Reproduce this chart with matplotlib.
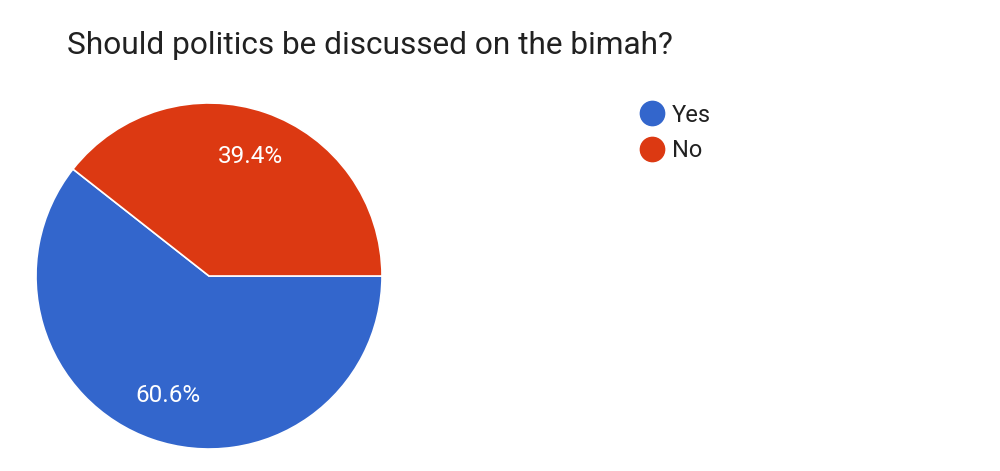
import matplotlib
matplotlib.use("Agg")
import matplotlib.pyplot as plt
from matplotlib.lines import Line2D

title = "Should politics be discussed on the bimah?"
categories = ["Yes", "No"]
values = [60.6, 39.4]
colors = ["#3366CC", "#DC3912"]

plt.rcParams['font.family'] = ['Roboto', 'DejaVu Sans']

W, H = 1000, 471
fig = plt.figure(figsize=(W/100, H/100), dpi=100)
fig.patch.set_facecolor("white")

cx, cy, r = 209, 276, 173
ax = fig.add_axes([(cx - r)/W, 1 - (cy + r)/H, 2*r/W, 2*r/H])
wedges, texts, autotexts = ax.pie(
    values, colors=colors, startangle=360*values[1]/100, counterclock=True,
    autopct='%1.1f%%', pctdistance=0.73, radius=1,
    wedgeprops=dict(edgecolor='white', linewidth=1.2),
    textprops=dict(color='white', fontsize=17.5))
ax.set_xlim(-1.0, 1.0)
ax.set_ylim(-1.0, 1.0)
ax.set_aspect('equal')
ax.axis('off')

fig.text(67/W, 1 - 45/H, title, fontsize=22.8, color='#212121', va='center', ha='left')

handles = [Line2D([0], [0], marker='o', linestyle='none', markersize=17.5,
                  markerfacecolor=c, markeredgecolor=c) for c in colors]
leg = fig.legend(handles, categories, loc='upper left',
                 bbox_to_anchor=(638/W, 1 - 103.5/H), frameon=False,
                 fontsize=17, handletextpad=0.25, labelspacing=0.55,
                 handlelength=1.2, borderaxespad=0, borderpad=0)
for t in leg.get_texts():
    t.set_color('#212121')

fig.savefig("out.png", dpi=100, facecolor="white")
